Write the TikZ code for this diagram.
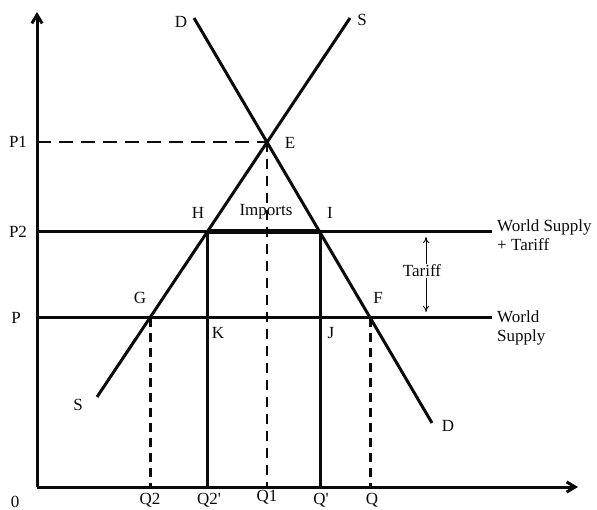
\documentclass[tikz,border=0pt]{standalone}
\usepackage{fontspec}
\setmainfont{Liberation Serif}
\usetikzlibrary{arrows.meta,positioning}
\definecolor{ink}{RGB}{10,10,10}
\tikzset{
  >={Straight Barb[length=3mm,width=3.6mm]},
  mkt/.style={line width=3pt,draw=ink},
  axisline/.style={line width=3pt,draw=ink,->},
  guide/.style={line width=1.3pt,draw=ink,dash pattern=on 10pt off 7pt},
  guide long/.style={line width=1.3pt,draw=ink,dash pattern=on 14pt off 8pt},
  dropline/.style={line width=3pt,draw=ink,dash pattern=on 9pt off 6pt},
  tag/.style={font=\fontsize{17}{19}\selectfont,text=ink,inner sep=1pt},
  small arrow/.style={->,line width=0.9pt,draw=ink,>={To[length=2.2mm,width=2.2mm]}},
}
\begin{document}
\begin{tikzpicture}[x=1pt,y=-1pt]
  \useasboundingbox (0,0) rectangle (597,510);
  % axes
  \coordinate (O) at (37,487);
  \coordinate (ytop) at (37,12);
  \coordinate (xend) at (578,487);
  \draw[axisline] (O) -- (ytop);
  \draw[axisline] (O) -- (xend);
  % market points
  \coordinate (E) at (267,142);
  \coordinate (H) at (207,232);
  \coordinate (I) at (320,232);
  \coordinate (G) at (150,318);
  \coordinate (F) at (370,318);
  \coordinate (K) at (207,318);
  \coordinate (J) at (320,318);
  \coordinate (p1) at (37,142);
  \coordinate (p2) at (37,232);
  \coordinate (p0) at (37,318);
  \coordinate (wst) at (492,232);
  \coordinate (ws) at (492,318);
  % supply and demand
  \coordinate (s1) at (97,397);
  \coordinate (s2) at (350,18);
  \coordinate (d1) at (194,18);
  \coordinate (d2) at (432,423);
  \draw[mkt] (s1) -- (s2);
  \draw[mkt] (d1) -- (d2);
  % price lines
  \draw[mkt] (p2) -- (wst);
  \draw[mkt] (p0) -- (ws);
  \draw[line width=5pt,draw=ink] (H) -- (I);
  \draw[guide long] (p1) -- (E);
  \draw[guide] (E) -- (E |- O);
  % quantity lines
  \draw[dropline] (G) -- (G |- O);
  \draw[dropline] (F) -- (F |- O);
  \draw[mkt] (H) -- (H |- O);
  \draw[mkt] (I) -- (I |- O);
  % labels
  \node[tag] (lD1) at (181,22) {D};
  \node[tag] (lS1) at (362,20) {S};
  \node[tag] (lS2) at (78,405) {S};
  \node[tag] (lD2) at (448,426) {D};
  \node[tag] (lP1) at (18,142) {P1};
  \node[tag] (lP2) at (18,232) {P2};
  \node[tag] (lP) at (16,318) {P};
  \node[tag] (lE) at (290,143) {E};
  \node[tag] (lH) at (198,213) {H};
  \node[tag] (imp) at (266,212) {Imports};
  \node[tag] (lI) at (330,213) {I};
  \node[tag] (lG) at (140,298) {G};
  \node[tag] (lF) at (378,298) {F};
  \node[tag] (lK) at (218,333) {K};
  \node[tag] (lJ) at (331,333) {J};
  \node[tag,anchor=west,align=left] (wlt) at (496,235) {World Supply\\+ Tariff};
  \node[tag,anchor=west,align=left] (wl) at (496,328) {World\\Supply};
  \node[tag] (tariff) at (422,271) {Tariff};
  \coordinate (tup) at (426,237);
  \coordinate (tdn) at (426,312);
  \draw[small arrow] (tariff.north -| tup) -- (tup);
  \draw[small arrow] (tariff.south -| tdn) -- (tdn);
  \node[tag] (l0) at (15,502) {0};
  \node[tag] (lQ2) at (150,500) {Q2};
  \node[tag] (lQ2p) at (209,500) {Q2\textquotesingle};
  \node[tag] (lQ1) at (267,497) {Q1};
  \node[tag] (lQp) at (321,500) {Q\textquotesingle};
  \node[tag] (lQ) at (372,500) {Q};
\end{tikzpicture}
\end{document}
